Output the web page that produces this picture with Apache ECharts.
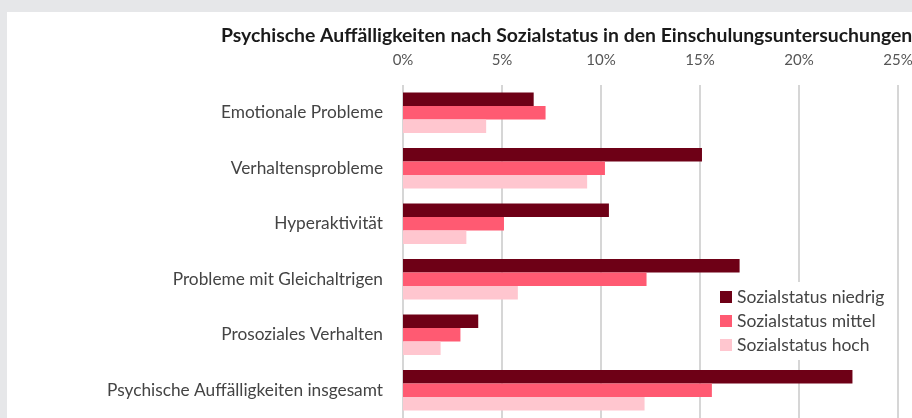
<!DOCTYPE html>
<html>
<head>
<meta charset="utf-8">
<script src="https://cdn.jsdelivr.net/npm/echarts@6/dist/echarts.min.js"></script>
<style>
  html, body { margin: 0; padding: 0; background: #e6e7e9; overflow: hidden; width: 912px; height: 418px; }
  .chart { position: absolute; left: 7px; top: 12px; width: 1020px; height: 406px; background: #fff; }
</style>
</head>
<body>
<div class="chart" id="main"></div>
<script>
const categories = [
  "Emotionale Probleme",
  "Verhaltensprobleme",
  "Hyperaktivität",
  "Probleme mit Gleichaltrigen",
  "Prosoziales Verhalten",
  "Psychische Auffälligkeiten insgesamt"
];
const seriesNames = ["Sozialstatus niedrig", "Sozialstatus mittel", "Sozialstatus hoch"];
const niedrig = [6.6, 15.1, 10.4, 17.0, 3.8, 22.7];
const mittel = [7.2, 10.2, 5.1, 12.3, 2.9, 15.6];
const hoch = [4.2, 9.3, 3.2, 5.8, 1.9, 12.2];
const colors = ["#6e0016", "#ff5a72", "#ffc6cf"];

const myChart = echarts.init(document.getElementById("main"));
const font = "Lato, 'Open Sans', sans-serif";

const option = {
  animation: false,
  title: {
    text: "Psychische Auffälligkeiten nach Sozialstatus in den Einschulungsuntersuchungen",
    left: 209,
    top: 9,
    textStyle: { fontFamily: font, fontSize: 19.4, fontWeight: "bold", color: "#1a1a1a" }
  },
  legend: {
    orient: "vertical",
    left: 705,
    top: 270,
    padding: [6, 8, 6, 8],
    backgroundColor: "#fff",
    itemWidth: 12,
    itemHeight: 12,
    itemGap: 6,
    icon: "rect",
    data: seriesNames,
    textStyle: { fontFamily: font, fontSize: 17.5, color: "#444" }
  },
  grid: { left: 396, top: 73, right: 30, bottom: 0 },
  xAxis: {
    type: "value",
    position: "top",
    min: 0,
    max: 30,
    interval: 5,
    axisLine: { show: false },
    axisTick: { show: false },
    axisLabel: {
      formatter: "{value}%",
      margin: 17,
      fontFamily: font,
      fontSize: 15,
      color: "#555"
    },
    splitLine: { lineStyle: { color: "#d6d6d6", width: 2 } }
  },
  yAxis: {
    type: "category",
    inverse: true,
    data: categories,
    axisLine: { show: false },
    axisTick: { show: false },
    axisLabel: { margin: 20, fontFamily: font, fontSize: 17.3, color: "#444" }
  },
  series: [niedrig, mittel, hoch].map((d, i) => ({
    name: seriesNames[i],
    type: "bar",
    data: d,
    barGap: "0%",
    barCategoryGap: "27%",
    itemStyle: { color: colors[i] }
  }))
};
myChart.setOption(option);
</script>
</body>
</html>
